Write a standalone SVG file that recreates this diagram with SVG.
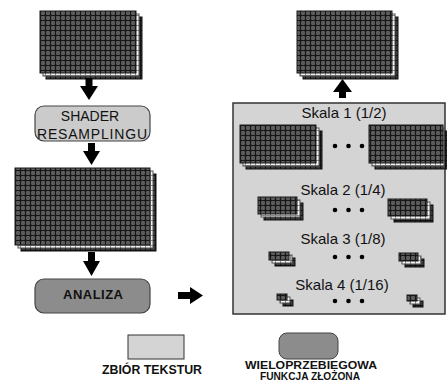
<svg xmlns="http://www.w3.org/2000/svg" width="447" height="383" viewBox="0 0 447 383">
<style>
text{font-family:"Liberation Sans",Arial,sans-serif;fill:#111;}
.lbl{font-size:14px;}
.sk{font-size:15px;}
.lg{font-size:12px;font-weight:bold;}
.lg2{font-size:10.5px;font-weight:bold;}
.front{fill:url(#pf);stroke:#1a1a1a;stroke-width:1;}
.mid{fill:url(#pm);stroke:#555;stroke-width:1;}
.back{fill:url(#pb);stroke:#111;stroke-width:1;}
.arrow{fill:#000;}
</style>
<defs>
<pattern id="pf" width="5" height="5" patternUnits="userSpaceOnUse">
<rect width="5" height="5" fill="#161616"/>
<rect x="1" y="1" width="4" height="4" fill="#474747"/>
<rect x="2" y="1" width="2" height="4" fill="#616161"/>
<rect x="1" y="2" width="4" height="2" fill="#5a5a5a"/>
</pattern>
<pattern id="pm" width="5" height="5" patternUnits="userSpaceOnUse">
<rect width="5" height="5" fill="#8a8a8a"/>
<rect x="1" y="1" width="4" height="4" fill="#f2f2f2"/>
</pattern>
<pattern id="pb" width="5" height="5" patternUnits="userSpaceOnUse">
<rect width="5" height="5" fill="#111"/>
<rect x="1" y="1" width="4" height="4" fill="#3a3a3a"/>
</pattern>
</defs>
<rect width="447" height="383" fill="#fff"/>

<g id="tex_input">
<rect class="back" x="46" y="17" width="96" height="62"/>
<rect class="mid" x="43" y="14" width="96" height="62"/>
<rect class="front" x="40" y="11" width="96" height="62"/>
</g>

<g id="shader">
<rect x="35" y="106" width="115" height="35" rx="9" fill="#cbcbcb" stroke="#444" stroke-width="1.2"/>
<text class="lbl" x="90" y="121" text-anchor="middle">SHADER</text>
<text class="lbl" x="92" y="139" text-anchor="middle" textLength="110" lengthAdjust="spacing">RESAMPLINGU</text>
</g>

<g id="tex_resampled">
<rect class="back" x="21" y="174" width="135" height="77"/>
<rect class="mid" x="18" y="171" width="135" height="77"/>
<rect class="front" x="15" y="168" width="135" height="77"/>
</g>

<g id="analiza">
<rect x="35" y="279" width="115" height="34" rx="9" fill="#8c8c8c" stroke="#444" stroke-width="1.2"/>
<text x="93" y="299" text-anchor="middle" font-size="13" font-weight="bold" textLength="60" lengthAdjust="spacing">ANALIZA</text>
</g>

<g id="tex_output">
<rect class="back" x="303" y="17" width="95" height="62"/>
<rect class="mid" x="300" y="14" width="95" height="62"/>
<rect class="front" x="297" y="11" width="95" height="62"/>
</g>

<g id="scales">
<rect x="233" y="103" width="212" height="211" fill="#d4d4d4" stroke="#333" stroke-width="1.5"/>
<text class="sk" x="344" y="118" text-anchor="middle">Skala 1 (1/2)</text>
<rect class="back" x="246" y="131" width="76" height="38"/>
<rect class="mid" x="243" y="128" width="76" height="38"/>
<rect class="front" x="240" y="125" width="76" height="38"/>
<rect class="back" x="375" y="131" width="72" height="38"/>
<rect class="mid" x="372" y="128" width="72" height="38"/>
<rect class="front" x="369" y="125" width="74" height="38"/>
<circle cx="335" cy="146" r="2.3"/><circle cx="348.5" cy="146" r="2.3"/><circle cx="362" cy="146" r="2.3"/>

<text class="sk" x="343" y="195" text-anchor="middle">Skala 2 (1/4)</text>
<rect class="back" x="264" y="203" width="39" height="17"/>
<rect class="mid" x="261" y="200" width="39" height="17"/>
<rect class="front" x="258" y="197" width="39" height="17"/>
<rect class="back" x="394" y="205" width="39" height="17"/>
<rect class="mid" x="391" y="202" width="39" height="17"/>
<rect class="front" x="388" y="199" width="39" height="17"/>
<circle cx="335" cy="210" r="2.3"/><circle cx="348.5" cy="210" r="2.3"/><circle cx="362" cy="210" r="2.3"/>

<text class="sk" x="343" y="244" text-anchor="middle">Skala 3 (1/8)</text>
<rect class="back" x="275" y="258" width="20" height="8"/>
<rect class="mid" x="272" y="255" width="20" height="8"/>
<rect class="front" x="269" y="252" width="20" height="8"/>
<rect class="back" x="405" y="259" width="19" height="8"/>
<rect class="mid" x="402" y="256" width="19" height="8"/>
<rect class="front" x="399" y="253" width="19" height="8"/>
<circle cx="335" cy="257" r="2.3"/><circle cx="348.5" cy="257" r="2.3"/><circle cx="362" cy="257" r="2.3"/>

<text class="sk" x="342" y="290" text-anchor="middle">Skala 4 (1/16)</text>
<rect class="back" x="283" y="300" width="10" height="6"/>
<rect class="mid" x="280" y="297" width="10" height="6"/>
<rect class="front" x="277" y="294" width="10" height="6"/>
<rect class="back" x="413" y="301" width="10" height="6"/>
<rect class="mid" x="410" y="298" width="10" height="6"/>
<rect class="front" x="407" y="295" width="10" height="6"/>
<circle cx="335" cy="301" r="2.3"/><circle cx="348.5" cy="301" r="2.3"/><circle cx="362" cy="301" r="2.3"/>
</g>

<g id="legend_set">
<rect x="128" y="335" width="56" height="24" fill="#d4d4d4" stroke="#333" stroke-width="1"/>
<text class="lg" x="152" y="374" text-anchor="middle" textLength="100" lengthAdjust="spacingAndGlyphs">ZBIÓR TEKSTUR</text>
</g>
<g id="legend_func">
<rect x="279" y="333" width="59" height="26" rx="8" fill="#8c8c8c" stroke="#444" stroke-width="1"/>
<text class="lg2" x="311" y="369" text-anchor="middle" textLength="132" lengthAdjust="spacingAndGlyphs">WIELOPRZEBIEGOWA</text>
<text class="lg2" x="310" y="380" text-anchor="middle" textLength="100" lengthAdjust="spacingAndGlyphs">FUNKCJA ZŁOŻONA</text>
</g>

<g id="connectors">
<polygon class="arrow" points="85.5,78 92.5,78 92.5,86 98,86 89,100 80,86 85.5,86"/>
<polygon class="arrow" points="88,143 95,143 95,151 100,151 91.5,165 83,151 88,151"/>
<polygon class="arrow" points="88,252 95,252 95,261 100,261 91.5,276 83,261 88,261"/>
<polygon class="arrow" points="339,98 346,98 346,92 352,92 342.5,79 333,92 339,92"/>
<polygon class="arrow" points="178,292 190,292 190,287 203,295.5 190,304 190,299 178,299"/>
</g>
</svg>
